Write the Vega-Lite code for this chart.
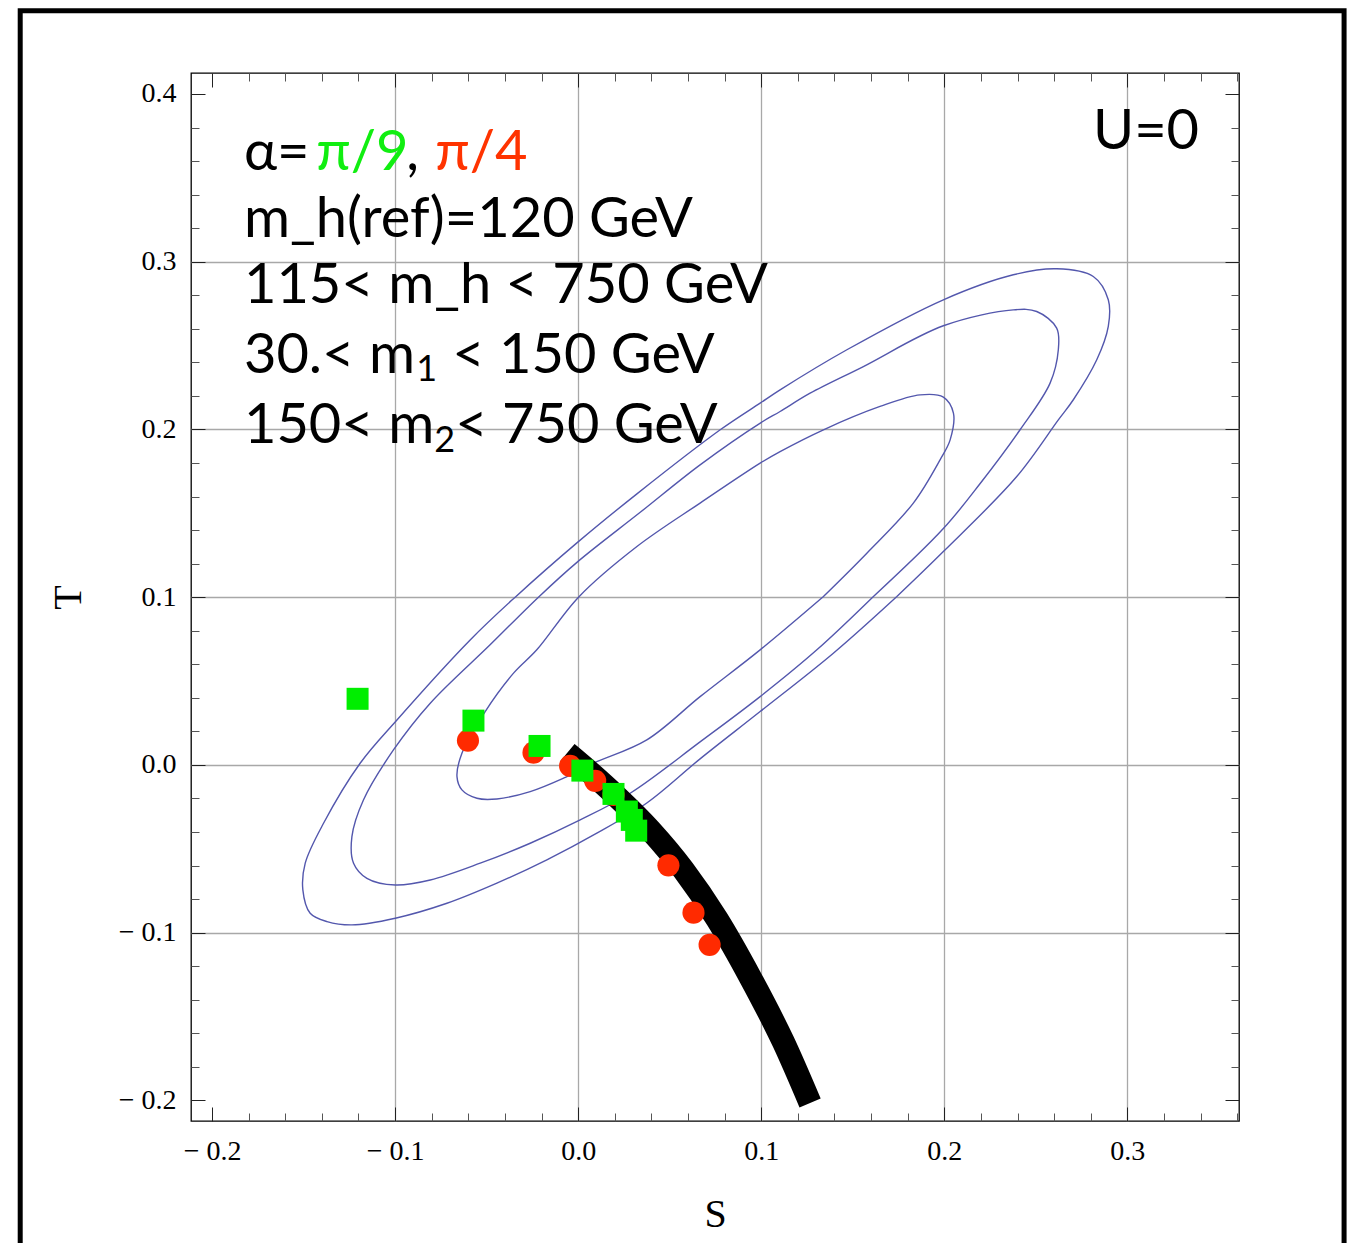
{
  "$schema": "https://vega.github.io/schema/vega-lite/v6.json",
  "autosize": {"type": "none"},
  "padding": {"left": 191, "top": 73, "right": 119, "bottom": 122},
  "width": 1048,
  "height": 1048,
  "background": "white",
  "config": {
    "view": {"stroke": "black", "strokeWidth": 1.3},
    "axis": {"domain": false, "labelFont": "Liberation Serif", "labelFontSize": 28, "labelColor": "black", "titleFont": "Liberation Serif", "titleFontSize": 40, "titleFontWeight": "normal", "titleColor": "black", "tickWidth": 1}
  },
  "datasets": {
    "contours": [
      {"c": "outer", "i": 1, "S": 0.1741, "T": 0.1004},
      {"c": "outer", "i": 2, "S": 0.1995, "T": 0.1272},
      {"c": "outer", "i": 3, "S": 0.2396, "T": 0.1719},
      {"c": "outer", "i": 4, "S": 0.2623, "T": 0.2057},
      {"c": "outer", "i": 5, "S": 0.2705, "T": 0.2177},
      {"c": "outer", "i": 6, "S": 0.2833, "T": 0.2415},
      {"c": "outer", "i": 7, "S": 0.2896, "T": 0.2614},
      {"c": "outer", "i": 8, "S": 0.2896, "T": 0.2773},
      {"c": "outer", "i": 9, "S": 0.2814, "T": 0.2912},
      {"c": "outer", "i": 10, "S": 0.2614, "T": 0.2958},
      {"c": "outer", "i": 11, "S": 0.2377, "T": 0.2922},
      {"c": "outer", "i": 12, "S": 0.1995, "T": 0.2773},
      {"c": "outer", "i": 13, "S": 0.1468, "T": 0.2475},
      {"c": "outer", "i": 14, "S": 0.1103, "T": 0.2236},
      {"c": "outer", "i": 15, "S": 0.0994, "T": 0.2157},
      {"c": "outer", "i": 16, "S": 0.0776, "T": 0.1998},
      {"c": "outer", "i": 17, "S": 0.0321, "T": 0.1616},
      {"c": "outer", "i": 18, "S": -0.0002, "T": 0.1328},
      {"c": "outer", "i": 19, "S": -0.0344, "T": 0.1},
      {"c": "outer", "i": 20, "S": -0.059, "T": 0.0745},
      {"c": "outer", "i": 21, "S": -0.099, "T": 0.0268},
      {"c": "outer", "i": 22, "S": -0.1191, "T": 0.001},
      {"c": "outer", "i": 23, "S": -0.1391, "T": -0.0348},
      {"c": "outer", "i": 24, "S": -0.1491, "T": -0.0586},
      {"c": "outer", "i": 25, "S": -0.1504, "T": -0.0745},
      {"c": "outer", "i": 26, "S": -0.1464, "T": -0.0884},
      {"c": "outer", "i": 27, "S": -0.1372, "T": -0.0934},
      {"c": "outer", "i": 28, "S": -0.1236, "T": -0.0954},
      {"c": "outer", "i": 29, "S": -0.0999, "T": -0.0914},
      {"c": "outer", "i": 30, "S": -0.0717, "T": -0.0825},
      {"c": "outer", "i": 31, "S": -0.0444, "T": -0.0705},
      {"c": "outer", "i": 32, "S": -0.0171, "T": -0.0566},
      {"c": "outer", "i": 33, "S": 0.0102, "T": -0.0407},
      {"c": "outer", "i": 34, "S": 0.0375, "T": -0.0227},
      {"c": "outer", "i": 35, "S": 0.0666, "T": 0.0036},
      {"c": "outer", "i": 36, "S": 0.0994, "T": 0.0318},
      {"c": "outer", "i": 37, "S": 0.1394, "T": 0.0666},
      {"c": "outer", "i": 38, "S": 0.1741, "T": 0.1004},
      {"c": "middle", "i": 1, "S": 0.1613, "T": 0.1004},
      {"c": "middle", "i": 2, "S": 0.1995, "T": 0.1409},
      {"c": "middle", "i": 3, "S": 0.2195, "T": 0.1676},
      {"c": "middle", "i": 4, "S": 0.2414, "T": 0.1998},
      {"c": "middle", "i": 5, "S": 0.2578, "T": 0.2276},
      {"c": "middle", "i": 6, "S": 0.2623, "T": 0.2475},
      {"c": "middle", "i": 7, "S": 0.2614, "T": 0.2604},
      {"c": "middle", "i": 8, "S": 0.2505, "T": 0.2703},
      {"c": "middle", "i": 9, "S": 0.2377, "T": 0.2713},
      {"c": "middle", "i": 10, "S": 0.1995, "T": 0.2618},
      {"c": "middle", "i": 11, "S": 0.1558, "T": 0.2375},
      {"c": "middle", "i": 12, "S": 0.1267, "T": 0.2216},
      {"c": "middle", "i": 13, "S": 0.1103, "T": 0.2107},
      {"c": "middle", "i": 14, "S": 0.0999, "T": 0.2041},
      {"c": "middle", "i": 15, "S": 0.0666, "T": 0.1789},
      {"c": "middle", "i": 16, "S": 0.0339, "T": 0.1506},
      {"c": "middle", "i": 17, "S": -0.0002, "T": 0.1212},
      {"c": "middle", "i": 18, "S": -0.0217, "T": 0.1},
      {"c": "middle", "i": 19, "S": -0.0481, "T": 0.0716},
      {"c": "middle", "i": 20, "S": -0.0808, "T": 0.0368},
      {"c": "middle", "i": 21, "S": -0.1009, "T": 0.0089},
      {"c": "middle", "i": 22, "S": -0.1173, "T": -0.0209},
      {"c": "middle", "i": 23, "S": -0.1236, "T": -0.0428},
      {"c": "middle", "i": 24, "S": -0.1227, "T": -0.0586},
      {"c": "middle", "i": 25, "S": -0.1154, "T": -0.0676},
      {"c": "middle", "i": 26, "S": -0.0999, "T": -0.0716},
      {"c": "middle", "i": 27, "S": -0.0808, "T": -0.0686},
      {"c": "middle", "i": 28, "S": -0.0535, "T": -0.0586},
      {"c": "middle", "i": 29, "S": -0.0262, "T": -0.0467},
      {"c": "middle", "i": 30, "S": 0.0011, "T": -0.0328},
      {"c": "middle", "i": 31, "S": 0.0284, "T": -0.0169},
      {"c": "middle", "i": 32, "S": 0.0666, "T": 0.0137},
      {"c": "middle", "i": 33, "S": 0.0994, "T": 0.0407},
      {"c": "middle", "i": 34, "S": 0.1304, "T": 0.0686},
      {"c": "middle", "i": 35, "S": 0.1613, "T": 0.1004},
      {"c": "inner", "i": 1, "S": 0.134, "T": 0.1004},
      {"c": "inner", "i": 2, "S": 0.1577, "T": 0.1262},
      {"c": "inner", "i": 3, "S": 0.1831, "T": 0.1561},
      {"c": "inner", "i": 4, "S": 0.1977, "T": 0.1819},
      {"c": "inner", "i": 5, "S": 0.2032, "T": 0.1938},
      {"c": "inner", "i": 6, "S": 0.205, "T": 0.2097},
      {"c": "inner", "i": 7, "S": 0.1995, "T": 0.2193},
      {"c": "inner", "i": 8, "S": 0.1868, "T": 0.2206},
      {"c": "inner", "i": 9, "S": 0.1649, "T": 0.2137},
      {"c": "inner", "i": 10, "S": 0.134, "T": 0.1998},
      {"c": "inner", "i": 11, "S": 0.1103, "T": 0.1868},
      {"c": "inner", "i": 12, "S": 0.0994, "T": 0.1799},
      {"c": "inner", "i": 13, "S": 0.0666, "T": 0.1561},
      {"c": "inner", "i": 14, "S": 0.0321, "T": 0.1302},
      {"c": "inner", "i": 15, "S": 0.0002, "T": 0.1},
      {"c": "inner", "i": 16, "S": -0.0226, "T": 0.0686},
      {"c": "inner", "i": 17, "S": -0.0353, "T": 0.0547},
      {"c": "inner", "i": 18, "S": -0.0508, "T": 0.0318},
      {"c": "inner", "i": 19, "S": -0.0635, "T": 0.007},
      {"c": "inner", "i": 20, "S": -0.0662, "T": -0.007},
      {"c": "inner", "i": 21, "S": -0.0635, "T": -0.0149},
      {"c": "inner", "i": 22, "S": -0.0553, "T": -0.0199},
      {"c": "inner", "i": 23, "S": -0.0444, "T": -0.0203},
      {"c": "inner", "i": 24, "S": -0.0262, "T": -0.0159},
      {"c": "inner", "i": 25, "S": -0.008, "T": -0.0079},
      {"c": "inner", "i": 26, "S": 0.0084, "T": 0.001},
      {"c": "inner", "i": 27, "S": 0.0375, "T": 0.0149},
      {"c": "inner", "i": 28, "S": 0.0666, "T": 0.0407},
      {"c": "inner", "i": 29, "S": 0.0994, "T": 0.0686},
      {"c": "inner", "i": 30, "S": 0.134, "T": 0.1004}
    ],
    "band": [
      {"i": 1, "S": -0.006, "T": 0.0072},
      {"i": 2, "S": 0.0066, "T": -0.0045},
      {"i": 3, "S": 0.0211, "T": -0.0189},
      {"i": 4, "S": 0.0393, "T": -0.0388},
      {"i": 5, "S": 0.0575, "T": -0.0626},
      {"i": 6, "S": 0.0758, "T": -0.0918},
      {"i": 7, "S": 0.0939, "T": -0.1264},
      {"i": 8, "S": 0.1121, "T": -0.1652},
      {"i": 9, "S": 0.1267, "T": -0.2016}
    ],
    "red": [
      {"S": -0.0602, "T": 0.0145},
      {"S": -0.0244, "T": 0.0073},
      {"S": -0.0044, "T": -0.0006},
      {"S": 0.0093, "T": -0.0095},
      {"S": 0.0193, "T": -0.0179},
      {"S": 0.0493, "T": -0.0599},
      {"S": 0.063, "T": -0.0881},
      {"S": 0.0718, "T": -0.1073}
    ],
    "green": [
      {"S": -0.1205, "T": 0.0394},
      {"S": -0.0572, "T": 0.0264},
      {"S": -0.0211, "T": 0.0113},
      {"S": 0.0023, "T": -0.0034},
      {"S": 0.0193, "T": -0.0173},
      {"S": 0.0266, "T": -0.0278},
      {"S": 0.0293, "T": -0.0328},
      {"S": 0.0317, "T": -0.0392}
    ],
    "labels": [
      {"S": -0.1826, "T": 0.3548, "txt": "α=", "c": "k"},
      {"S": -0.1431, "T": 0.3548, "txt": "π/9", "c": "g"},
      {"S": -0.0939, "T": 0.3548, "txt": ",", "c": "k"},
      {"S": -0.0781, "T": 0.3548, "txt": "π/4", "c": "r"},
      {"S": -0.1826, "T": 0.315, "txt": "m_h(ref)=120 GeV", "c": "k"},
      {"S": -0.1826, "T": 0.2753, "txt": "115< m_h < 750 GeV", "c": "k"},
      {"S": -0.1826, "T": 0.2336, "txt": "30.< m", "c": "k"},
      {"S": -0.0688, "T": 0.2336, "txt": "< 150 GeV", "c": "k"},
      {"S": -0.1826, "T": 0.1918, "txt": "150< m", "c": "k"},
      {"S": -0.0672, "T": 0.1918, "txt": "< 750 GeV", "c": "k"}
    ],
    "subs": [
      {"S": -0.0885, "T": 0.2286, "txt": "1"},
      {"S": -0.0786, "T": 0.1868, "txt": "2"}
    ],
    "corner": [{"S": 0.3392, "T": 0.3673, "txt": "U=0"}],
    "frame": [{"S1": -0.3048, "S2": 0.4184, "T1": 0.4496, "T2": -0.3011}]
  },
  "resolve": {"axis": {"x": "independent", "y": "independent"}},
  "layer": [
    {
      "data": {"name": "contours"},
      "mark": {"type": "line", "color": "#5357ad", "strokeWidth": 1.4, "interpolate": "catmull-rom"},
      "encoding": {
        "x": {"field": "S", "type": "quantitative", "scale": {"domain": [-0.2115, 0.361], "nice": false, "zero": false},
              "axis": {"orient": "bottom", "values": [-0.1, 0, 0.1, 0.2, 0.3], "grid": true, "gridColor": "#a8a8a8", "gridWidth": 1.3, "gridOpacity": 1, "ticks": false, "labels": false, "title": null}},
        "y": {"field": "T", "type": "quantitative", "scale": {"domain": [-0.2123, 0.4125], "nice": false, "zero": false},
              "axis": {"orient": "left", "values": [-0.1, 0, 0.1, 0.2, 0.3], "grid": true, "gridColor": "#a8a8a8", "gridWidth": 1.3, "gridOpacity": 1, "ticks": false, "labels": false, "title": null}},
        "detail": {"field": "c", "type": "nominal"},
        "order": {"field": "i", "type": "quantitative"}
      }
    },
    {
      "data": {"name": "band"},
      "mark": {"type": "line", "color": "black", "strokeWidth": 23, "strokeCap": "butt", "interpolate": "monotone"},
      "encoding": {
        "x": {"field": "S", "type": "quantitative",
              "axis": {"orient": "bottom", "values": [-0.2, -0.1, 0, 0.1, 0.2, 0.3], "grid": false, "tickSize": -14, "tickColor": "#222", "labelPadding": 30,
                       "labelExpr": "datum.value < 0 ? '\u2212 ' + format(-datum.value, '.1f') : format(datum.value, '.1f')", "title": "S", "titlePadding": 29}},
        "y": {"field": "T", "type": "quantitative",
              "axis": {"orient": "left", "values": [-0.2, -0.1, 0, 0.1, 0.2, 0.3, 0.4], "grid": false, "tickSize": -14, "tickColor": "#222", "labelPadding": 29,
                       "labelExpr": "datum.value < 0 ? '\u2212 ' + format(-datum.value, '.1f') : format(datum.value, '.1f')", "title": "T", "titlePadding": 30}},
        "order": {"field": "i", "type": "quantitative"}
      }
    },
    {
      "data": {"name": "red"},
      "mark": {"type": "point", "shape": "circle", "filled": true, "opacity": 1, "color": "#ff2a00", "size": 490},
      "encoding": {
        "x": {"field": "S", "type": "quantitative",
              "axis": {"orient": "bottom", "values": [-0.18, -0.16, -0.14, -0.12, -0.08, -0.06, -0.04, -0.02, 0.02, 0.04, 0.06, 0.08, 0.12, 0.14, 0.16, 0.18, 0.22, 0.24, 0.26, 0.28, 0.32, 0.34, 0.36], "grid": false, "tickSize": -8, "tickColor": "#555", "labels": false, "title": null}},
        "y": {"field": "T", "type": "quantitative",
              "axis": {"orient": "left", "values": [-0.18, -0.16, -0.14, -0.12, -0.08, -0.06, -0.04, -0.02, 0.02, 0.04, 0.06, 0.08, 0.12, 0.14, 0.16, 0.18, 0.22, 0.24, 0.26, 0.28, 0.32, 0.34, 0.36, 0.38], "grid": false, "tickSize": -8, "tickColor": "#555", "labels": false, "title": null}}
      }
    },
    {
      "data": {"name": "green"},
      "mark": {"type": "point", "shape": "square", "filled": true, "opacity": 1, "color": "#00ee00", "size": 484},
      "encoding": {
        "x": {"field": "S", "type": "quantitative",
              "axis": {"orient": "top", "values": [-0.2, -0.1, 0, 0.1, 0.2, 0.3], "grid": false, "tickSize": -14, "tickColor": "#222", "labels": false, "title": null}},
        "y": {"field": "T", "type": "quantitative",
              "axis": {"orient": "right", "values": [-0.2, -0.1, 0, 0.1, 0.2, 0.3, 0.4], "grid": false, "tickSize": -14, "tickColor": "#222", "labels": false, "title": null}}
      }
    },
    {
      "data": {"name": "labels"},
      "mark": {"type": "text", "font": "Lato", "fontSize": 56, "align": "left", "baseline": "alphabetic"},
      "encoding": {
        "x": {"field": "S", "type": "quantitative",
              "axis": {"orient": "top", "values": [-0.18, -0.16, -0.14, -0.12, -0.08, -0.06, -0.04, -0.02, 0.02, 0.04, 0.06, 0.08, 0.12, 0.14, 0.16, 0.18, 0.22, 0.24, 0.26, 0.28, 0.32, 0.34, 0.36], "grid": false, "tickSize": -8, "tickColor": "#555", "labels": false, "title": null}},
        "y": {"field": "T", "type": "quantitative",
              "axis": {"orient": "right", "values": [-0.18, -0.16, -0.14, -0.12, -0.08, -0.06, -0.04, -0.02, 0.02, 0.04, 0.06, 0.08, 0.12, 0.14, 0.16, 0.18, 0.22, 0.24, 0.26, 0.28, 0.32, 0.34, 0.36, 0.38], "grid": false, "tickSize": -8, "tickColor": "#555", "labels": false, "title": null}},
        "text": {"field": "txt", "type": "nominal"},
        "color": {"field": "c", "type": "nominal", "scale": {"domain": ["k", "g", "r"], "range": ["black", "#11ee11", "#ff3300"]}, "legend": null}
      }
    },
    {
      "data": {"name": "subs"},
      "mark": {"type": "text", "font": "Lato", "fontSize": 36, "align": "left", "baseline": "alphabetic", "color": "black"},
      "encoding": {
        "x": {"field": "S", "type": "quantitative", "axis": null},
        "y": {"field": "T", "type": "quantitative", "axis": null},
        "text": {"field": "txt", "type": "nominal"}
      }
    },
    {
      "data": {"name": "corner"},
      "mark": {"type": "text", "font": "Lato", "fontSize": 56, "align": "right", "baseline": "alphabetic", "color": "black"},
      "encoding": {
        "x": {"field": "S", "type": "quantitative", "axis": null},
        "y": {"field": "T", "type": "quantitative", "axis": null},
        "text": {"field": "txt", "type": "nominal"}
      }
    },
    {
      "data": {"name": "frame"},
      "mark": {"type": "rect", "fillOpacity": 0, "stroke": "black", "strokeWidth": 5, "clip": false},
      "encoding": {
        "x": {"field": "S1", "type": "quantitative", "axis": null},
        "x2": {"field": "S2"},
        "y": {"field": "T1", "type": "quantitative", "axis": null},
        "y2": {"field": "T2"}
      }
    }
  ]
}
